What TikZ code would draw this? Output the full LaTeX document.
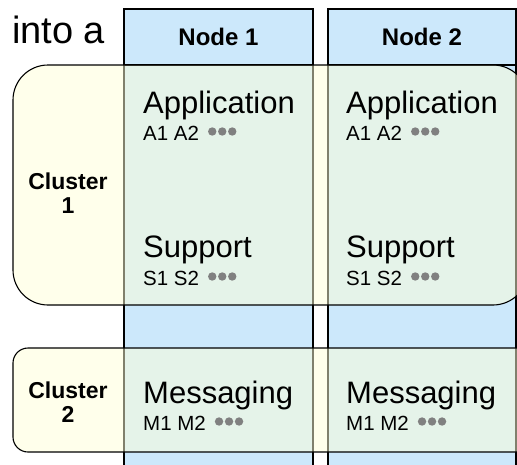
\documentclass[tikz,border=0pt]{standalone}
\usepackage{fontspec}
\setmainfont{Liberation Sans}
\usetikzlibrary{positioning}

\definecolor{nodeblue}{HTML}{CCE8FB}
\definecolor{clusteryellow}{HTML}{FFFFD8}
\definecolor{dotgray}{HTML}{808080}

\tikzset{
  column/.style={draw=black,line width=1.1pt,fill=nodeblue},
  cluster/.style={draw=black,line width=1.1pt,fill=clusteryellow,fill opacity=0.5},
  headlabel/.style={font=\fontsize{24}{27}\selectfont\bfseries},
  clusterlabel/.style={font=\fontsize{23}{24}\selectfont\bfseries,align=center},
  biglabel/.style={font=\fontsize{31}{34}\selectfont,anchor=base west,inner sep=0pt},
  smalllabel/.style={font=\fontsize{20.5}{22}\selectfont,anchor=base west,inner sep=0pt}
}

% three grey dots after a small label
\newcommand{\moredots}[1]{%
  \foreach \k in {0,1,2}
    \fill[dotgray] ([xshift=13pt+\k*10pt,yshift=8.5pt]#1.base east) circle (4.2pt);
}

\begin{document}
\begin{tikzpicture}[x=1pt,y=-1pt]
  \useasboundingbox (0,0) rectangle (517,464);
  \clip (0,0) rectangle (517,464);
  \def\headY{65}
  % node columns
  \draw[column] (124,9) rectangle (313,475);
  \draw[column] (328,9) rectangle (516,475);
  \draw[line width=1.1pt] (124,\headY) -- (313,\headY);
  \draw[line width=1.1pt] (328,\headY) -- (516,\headY);
  % clusters
  \draw[cluster,rounded corners=35pt] (13,\headY) rectangle (528,305);
  \draw[cluster,rounded corners=15pt] (13,348) rectangle (532,452);

  \node[font=\fontsize{38}{42}\selectfont,anchor=base west,inner sep=0pt] (intro) at (12,43) {into a};
  \node[headlabel] (head1) at (218.5,37) {Node 1};
  \node[headlabel] (head2) at (422,37) {Node 2};
  \node[clusterlabel] (clus1) at (68,193) {Cluster\\1};
  \node[clusterlabel] (clus2) at (68,402) {Cluster\\2};

  \foreach \n/\x in {1/143,2/346} {
    \node[biglabel] (app\n) at (\x,113) {Application};
    \node[smalllabel] (appsub\n) at (\x,140) {A1 A2};
    \moredots{appsub\n}
    \node[biglabel] (sup\n) at (\x,257) {Support};
    \node[smalllabel] (supsub\n) at (\x,285) {S1 S2};
    \moredots{supsub\n}
    \node[biglabel] (msg\n) at (\x,403) {Messaging};
    \node[smalllabel] (msgsub\n) at (\x,430) {M1 M2};
    \moredots{msgsub\n}
  }
\end{tikzpicture}
\end{document}
